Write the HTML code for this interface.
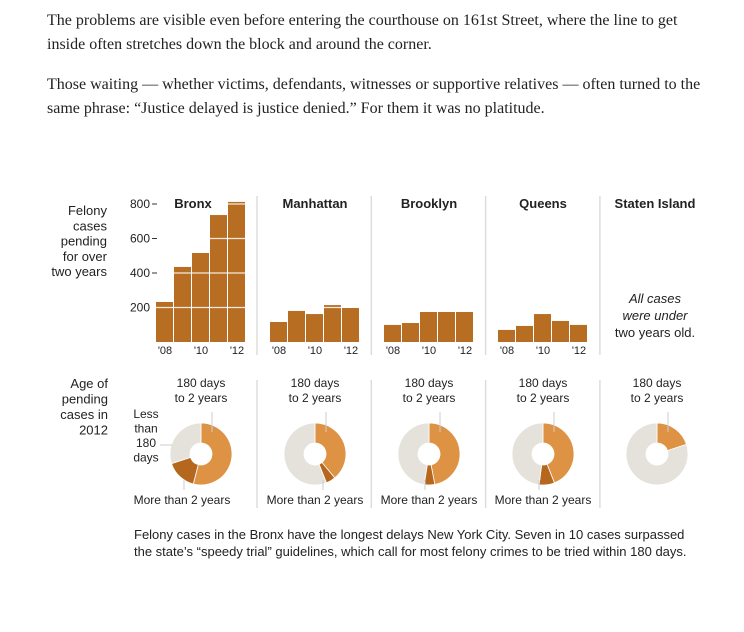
<!DOCTYPE html>
<html><head><meta charset="utf-8">
<style>
body{margin:0;background:#fff;width:744px;height:632px;overflow:hidden;}
.p{position:absolute;left:47px;font-family:"Liberation Serif",serif;font-size:16px;color:#222;line-height:24px;margin:0;width:660px;}
svg{position:absolute;left:0;top:0;}
svg text{font-family:"Liberation Sans",sans-serif;fill:#222;}
</style></head><body>
<p class="p" style="top:9px">The problems are visible even before entering the courthouse on 161st Street, where the line to get inside often stretches down the block and around the corner.</p>
<p class="p" style="top:73px">Those waiting — whether victims, defendants, witnesses or supportive relatives — often turned to the same phrase: “Justice delayed is justice denied.” For them it was no platitude.</p>
<svg id="chart" width="744" height="632"></svg>
<script>
const boroughs=["Bronx","Manhattan","Brooklyn","Queens","Staten Island"];
const years=["'08","'09","'10","'11","'12"];
const bronxVals=[232,435,516,736,812];
const manhattanVals=[116,180,162,214,197];
const brooklynVals=[99,110,174,174,174];
const queensVals=[70,93,162,122,99];
const statenVals=[];
const yTicks=[200,400,600,800];
const midShare=[54,39,47,44,20];
const longShare=[16,5,5.5,8,0];
const seriesList=[bronxVals,manhattanVals,brooklynVals,queensVals,statenVals];

const NS="http://www.w3.org/2000/svg";
const svg=document.getElementById('chart');
function mk(t,a,p){const e=document.createElementNS(NS,t);for(const k in a)e.setAttribute(k,a[k]);(p||svg).appendChild(e);return e;}
const base=342, pxPer=34.5/200;
const y=v=>base-v*pxPer;
const panelX=i=>156+i*114;
const barW=18;

function txt(x,yy,s,opt){const e=mk('text',Object.assign({x:x,y:yy,'font-size':12},opt||{}));e.textContent=s;return e;}

const l1=["Felony","cases","pending","for over","two years"];
l1.forEach((s,i)=>{const t=txt(107,215+i*15.3,s,{'text-anchor':'end','font-size':13});
});
const l2=["Age of","pending","cases in","2012"];
l2.forEach((s,i)=>{const t=txt(108,388+i*15.5,s,{'text-anchor':'end','font-size':13});
});

for(let i=1;i<5;i++){const d=mk('line',{x1:257+(i-1)*114.3,x2:257+(i-1)*114.3,y1:196,y2:355,stroke:'#ddd','stroke-width':1.5});

const d2=mk('line',{x1:257+(i-1)*114.3,x2:257+(i-1)*114.3,y1:380,y2:508,stroke:'#ddd','stroke-width':1.5});
}

yTicks.forEach(v=>{const t=txt(150,y(v)+4,String(v),{'text-anchor':'end','font-size':12});

if(v>200){const l=mk('line',{x1:152,x2:157,y1:y(v),y2:y(v),stroke:'#333'});}});

boroughs.forEach((b,i)=>{
  const cx=i<4?panelX(i)+45:655;
  const title=txt(i==0?193:cx,208,b,{'text-anchor':'middle','font-size':13,'font-weight':'bold'});
  
  const vals=seriesList[i];
  vals.forEach((v,j)=>{
    const r=mk('rect',{x:panelX(i)+j*barW,y:y(v),width:barW-1,height:base-y(v),fill:'#b86e22'});
    
    
    yTicks.forEach(t=>{if(t<v){const g=mk('line',{x1:panelX(i)+j*barW,x2:panelX(i)+j*barW+barW-1,y1:y(t),y2:y(t),stroke:'#fff','stroke-width':1.2,opacity:0.85});
      }});
  });
  if(vals.length){
    [0,2,4].forEach(j=>{const t=txt(panelX(i)+j*barW+9,354,years[j],{'text-anchor':'middle','font-size':11});
      });
  }
  const dx=i<4?201+i*114:657, dy=454, R=31, r0=11;
  const ang=p=>p*3.6*Math.PI/180;
  function arc(a0,a1,col,name){
    if(a1<=a0)return;
    const large=(a1-a0)>Math.PI?1:0;
    const p=(a,rr)=>[dx+rr*Math.sin(a),dy-rr*Math.cos(a)];
    const [x0,y0]=p(a0,R),[x1,y1]=p(a1,R),[x2,y2]=p(a1,r0),[x3,y3]=p(a0,r0);
    const e=mk('path',{d:`M${x0},${y0}A${R},${R} 0 ${large} 1 ${x1},${y1}L${x2},${y2}A${r0},${r0} 0 ${large} 0 ${x3},${y3}Z`,fill:col,stroke:'#fff','stroke-width':0.8});
    
  }
  const m=midShare[i],lg=longShare[i];
  arc(0,ang(m),'#de9243','donut-slice-mid');
  arc(ang(m),ang(m+lg),'#b5671d','donut-slice-long');
  arc(ang(m+lg),ang(100)-0.0001,'#e4e2da','donut-slice-short');
  const a1=txt(dx,387,'180 days',{'text-anchor':'middle','font-size':12});
  
  const a2=txt(dx,402,'to 2 years',{'text-anchor':'middle','font-size':12});
  
  const ll=mk('line',{x1:dx+11,x2:dx+11,y1:412,y2:432,stroke:'#ccc'});
  
  if(i<4){const t=txt(i==0?182:dx,504,'More than 2 years',{'text-anchor':'middle','font-size':12});
    
    const lx=i==0?dx-17:(i==1?dx+8:dx-4);
    const l2=mk('line',{x1:lx,x2:lx,y1:480,y2:490,stroke:'#ccc'});
    }
});
["Less","than","180","days"].forEach((s,i)=>{const t=txt(146,418+i*14.5,s,{'text-anchor':'middle','font-size':12});
});
const sl=mk('line',{x1:160,x2:172,y1:445,y2:445,stroke:'#ccc'});

["All cases","were under"].forEach((s,i)=>{const t=txt(655,303+i*17,s,{'text-anchor':'middle','font-size':13,'font-style':'italic'});
});
const sn=txt(655,337,'two years old.',{'text-anchor':'middle','font-size':13});

const c1=txt(134,539,'Felony cases in the Bronx have the longest delays New York City. Seven in 10 cases surpassed',{'font-size':13});

const c2=txt(134,556,'the state’s “speedy trial” guidelines, which call for most felony crimes to be tried within 180 days.',{'font-size':13});

</script>
</body></html>
